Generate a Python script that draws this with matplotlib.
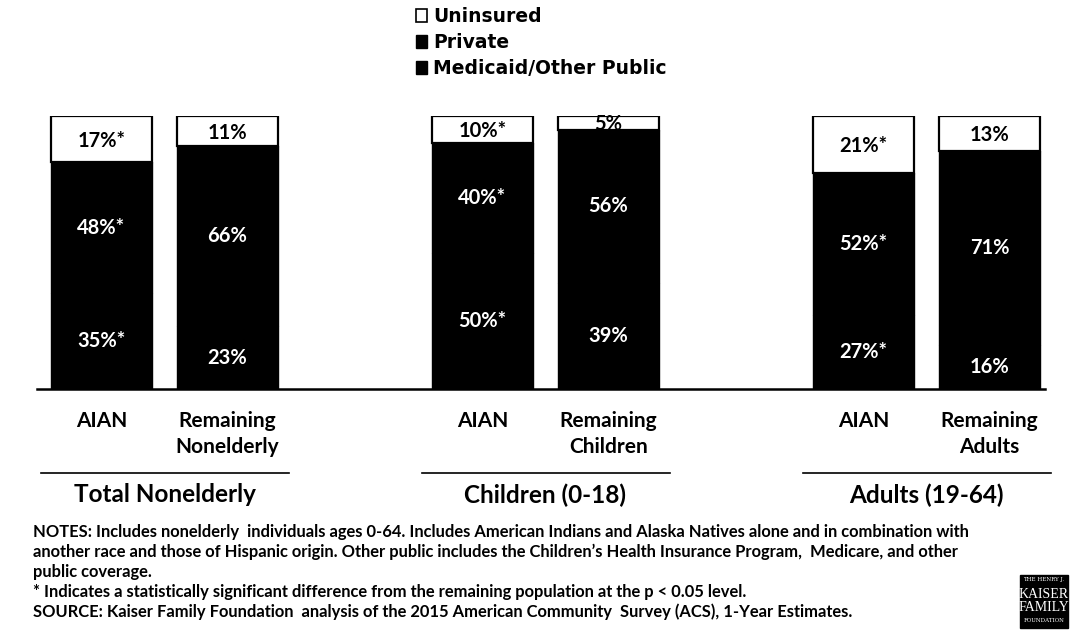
"""
Health coverage of AIAN vs remaining population, stacked bars by age group.
"""

import numpy as np
import matplotlib
matplotlib.use('Agg')
from matplotlib import pyplot as plt
from matplotlib.patches import Patch, Rectangle

# Data
groups = ['Total Nonelderly', 'Children (0-18)', 'Adults (19-64)']
bar_labels = ['AIAN', 'Remaining\nNonelderly',
              'AIAN', 'Remaining\nChildren',
              'AIAN', 'Remaining\nAdults']
medicaid = [35, 23, 50, 39, 27, 16]
private = [48, 66, 40, 56, 52, 71]
uninsured = [17, 11, 10, 5, 21, 13]
significant = [True, False, True, False, True, False]
series_names = ['Uninsured', 'Private', 'Medicaid/Other Public']

notes = [
    'NOTES: Includes nonelderly  individuals ages 0-64. Includes American Indians and Alaska Natives alone and in combination with',
    'another race and those of Hispanic origin. Other public includes the Children\u2019s Health Insurance Program,  Medicare, and other',
    'public coverage.',
    '* Indicates a statistically significant difference from the remaining population at the p < 0.05 level.',
    'SOURCE: Kaiser Family Foundation  analysis of the 2015 American Community  Survey (ACS), 1-Year Estimates.',
]

FONT = ['Lato', 'DejaVu Sans']
W, H = 1072, 640
BASE_PX, TOP_PX = 389, 116


def px_y(y):
    """Pixel row (from top) -> figure fraction."""
    return 1 - y / H


fig = plt.figure(figsize=(W / 100, H / 100), dpi=100)
ax = fig.add_axes([0, px_y(BASE_PX), 1, (BASE_PX - TOP_PX) / H])
ax.set_xlim(0, W)
ax.set_ylim(0, 100)
ax.axis('off')

# bar layout
group_centers = 164.5 + 381 * np.arange(len(groups))
xs = np.ravel([[c - 63, c + 63] for c in group_centers])
width = 101

med = np.array(medicaid)
pri = np.array(private)
uni = np.array(uninsured)

ax.bar(xs, med, width=width, color='black', edgecolor='black', linewidth=1)
ax.bar(xs, pri, bottom=med, width=width, color='black', edgecolor='black', linewidth=1)
unins_bars = ax.bar(xs, uni, bottom=med + pri, width=width, color='white',
                    edgecolor='black', linewidth=1.6)

star = lambda v, s: f'{v}%' + ('*' if s else '')
for i, x in enumerate(xs):
    ax.text(x, med[i] / 2, star(med[i], significant[i]), color='white',
            ha='center', va='center', fontsize=14.5, fontweight='bold', family=FONT)
    ax.text(x, med[i] + pri[i] / 2, star(pri[i], significant[i]), color='white',
            ha='center', va='center', fontsize=14.5, fontweight='bold', family=FONT)
    t = ax.text(x, med[i] + pri[i] + uni[i] / 2 - 0.6, star(uni[i], significant[i]),
                color='black', ha='center', va='center', fontsize=14.5,
                fontweight='bold', family=FONT)
    t.set_clip_path(unins_bars[i])

# baseline
ax.plot([37, 1045], [0, 0], color='black', linewidth=1.8, clip_on=False)

# category labels and group labels
scale = 100 / (BASE_PX - TOP_PX)
for i, x in enumerate(xs):
    ax.text(x, -(411 - BASE_PX) * scale, bar_labels[i], ha='center', va='top',
            fontsize=15, fontweight='bold', family=FONT, linespacing=1.38,
            clip_on=False)

for c, g in zip(group_centers, groups):
    ax.plot([c - 124, c + 124], [-(473 - BASE_PX) * scale] * 2,
            color='black', linewidth=1.2, clip_on=False)
    ax.text(c, -(495 - BASE_PX) * scale, g, ha='center', va='center',
            fontsize=17.5, fontweight='bold', family=FONT, clip_on=False)

# legend
handles = [Patch(facecolor='white', edgecolor='black', linewidth=1.2),
           Patch(facecolor='black', edgecolor='black'),
           Patch(facecolor='black', edgecolor='black')]
fig.legend(handles, series_names, loc='upper left',
           bbox_to_anchor=(416 / W, px_y(7)), frameon=False,
           prop={'family': 'DejaVu Sans', 'weight': 'bold', 'size': 13.5},
           handlelength=0.6, handleheight=0.65, handletextpad=0.3,
           labelspacing=0.38, borderpad=0, borderaxespad=0)

# notes
for k, line in enumerate(notes):
    fig.text(33 / W, px_y(532 + 20 * k), line, ha='left', va='center',
             fontsize=11.9, fontweight='bold', family=FONT)

# logo
fig.add_artist(Rectangle((1020 / W, px_y(628)), 48 / W, 53 / H,
                         transform=fig.transFigure, color='black'))
fig.text(1044 / W, px_y(580), 'THE HENRY J.', color='white', ha='center',
         va='center', fontsize=4, family='DejaVu Serif')
fig.text(1044 / W, px_y(601), 'KAISER\nFAMILY', color='white', ha='center',
         va='center', fontsize=10, family='Liberation Serif', linespacing=0.95)
fig.text(1044 / W, px_y(621), 'FOUNDATION', color='white', ha='center',
         va='center', fontsize=4, family='DejaVu Serif')

fig.savefig('out.png', dpi=100)
